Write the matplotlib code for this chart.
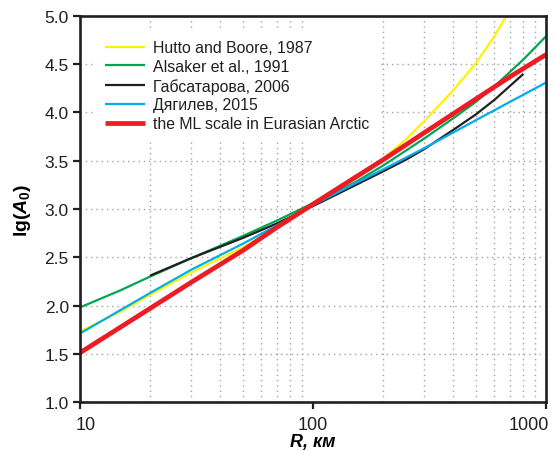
import matplotlib
matplotlib.use('Agg')
import matplotlib.pyplot as plt
import matplotlib.transforms as mtransforms
from matplotlib.ticker import LogLocator, NullFormatter

plt.rcParams['font.family'] = ['Liberation Sans', 'DejaVu Sans']
plt.rcParams['mathtext.fontset'] = 'custom'
plt.rcParams['mathtext.rm'] = 'Liberation Sans:bold'
plt.rcParams['mathtext.it'] = 'Liberation Sans:bold:italic'

# values
R_hb = [10, 15, 20, 30, 40, 50, 70, 100, 150, 200, 250, 300, 400, 500, 600, 680]
lg_hb = [1.73, 1.94, 2.11, 2.34, 2.49, 2.60, 2.81, 3.04, 3.31, 3.52, 3.72, 3.91, 4.23, 4.51, 4.79, 5.01]

R_als = [10, 15, 20, 30, 50, 70, 100, 150, 200, 300, 400, 500, 600, 800, 1000]
lg_als = [1.98, 2.16, 2.30, 2.49, 2.72, 2.88, 3.06, 3.27, 3.45, 3.73, 3.94, 4.11, 4.27, 4.55, 4.79]

R_gab = [20, 30, 50, 70, 100, 150, 200, 250, 300, 400, 500, 600, 800]
lg_gab = [2.31, 2.49, 2.70, 2.85, 3.03, 3.24, 3.39, 3.51, 3.62, 3.82, 3.98, 4.13, 4.40]

R_dyag = [10, 20, 30, 50, 70, 100, 150, 200, 300, 500, 700, 1000]
lg_dyag = [1.71, 2.13, 2.37, 2.64, 2.83, 3.04, 3.26, 3.41, 3.63, 3.92, 4.11, 4.31]

R_ml = [10, 20, 30, 50, 70, 100, 150, 200, 300, 500, 700, 1000]
lg_ml = [1.51, 1.97, 2.24, 2.57, 2.81, 3.05, 3.32, 3.51, 3.79, 4.14, 4.37, 4.60]

labels = ['Hutto and Boore, 1987', 'Alsaker et al., 1991', 'Габсатарова, 2006',
          'Дягилев, 2015', 'the ML scale in Eurasian Arctic']
colors = ['#fff200', '#00a651', '#231f20', '#00aeef', '#ed1c24']
widths = [1.6, 1.6, 1.6, 1.6, 3.4]

xticks = [10, 100, 1000]
xticklabels = ['10', '100', '1000']
yticks = [1.0, 1.5, 2.0, 2.5, 3.0, 3.5, 4.0, 4.5, 5.0]

fig = plt.figure(figsize=(5.55, 4.52), dpi=100)
ax = fig.add_axes([0.1441, 0.1084, 0.8397, 0.854])

series = [(R_hb, lg_hb), (R_als, lg_als), (R_gab, lg_gab), (R_dyag, lg_dyag), (R_ml, lg_ml)]
for (r, v), lab, c, w in zip(series, labels, colors, widths):
    ax.plot(r, v, color=c, lw=w, label=lab, solid_capstyle='butt')

ax.set_xscale('log')
ax.set_xlim(10, 1000)
ax.set_ylim(1.0, 5.0)
ax.set_xticks(xticks)
ax.set_xticklabels(xticklabels)
ax.xaxis.set_minor_locator(LogLocator(base=10, subs=range(2, 10)))
ax.xaxis.set_minor_formatter(NullFormatter())
ax.set_yticks(yticks)
ax.set_yticklabels(['%.1f' % t for t in yticks])

ax.grid(which='minor', axis='x', color='#a3a3a3', lw=1.0, ls=(0, (1, 2.8)))
ax.grid(which='major', axis='y', color='#a3a3a3', lw=1.0, ls=(0, (1, 2.8)))
ax.set_axisbelow(True)

for s in ax.spines.values():
    s.set_linewidth(1.9)
    s.set_color('#231f20')
ax.tick_params(axis='both', which='major', direction='out', length=5, width=1.6,
               color='#231f20', labelcolor='#231f20')
ax.tick_params(axis='x', which='major', labelsize=13, pad=5)
ax.tick_params(axis='y', which='major', labelsize=12.5, pad=3)
ax.tick_params(axis='x', which='minor', length=0)

# first and last x labels sit inside the frame
xl = ax.get_xticklabels()
xl[0].set_ha('left')
xl[0].set_transform(xl[0].get_transform() + mtransforms.ScaledTranslation(-4 / 100, 0, fig.dpi_scale_trans))
xl[-1].set_ha('right')
xl[-1].set_transform(xl[-1].get_transform() + mtransforms.ScaledTranslation(3 / 100, 0, fig.dpi_scale_trans))

ax.set_xlabel('R, км', fontsize=13, fontweight='bold', fontstyle='italic', labelpad=0)
ax.set_ylabel('lg($A_0$)', fontsize=14, fontweight='bold', labelpad=8)

leg = ax.legend(loc='upper left', bbox_to_anchor=(0.03, 0.966), borderaxespad=0,
                frameon=True, fancybox=False, edgecolor='none', facecolor='white',
                framealpha=1, fontsize=11.4, handlelength=2.5, handletextpad=0.55,
                labelspacing=0.24, borderpad=0.7)
for t in leg.get_texts():
    t.set_color('#231f20')

fig.savefig('out.png', dpi=100)
